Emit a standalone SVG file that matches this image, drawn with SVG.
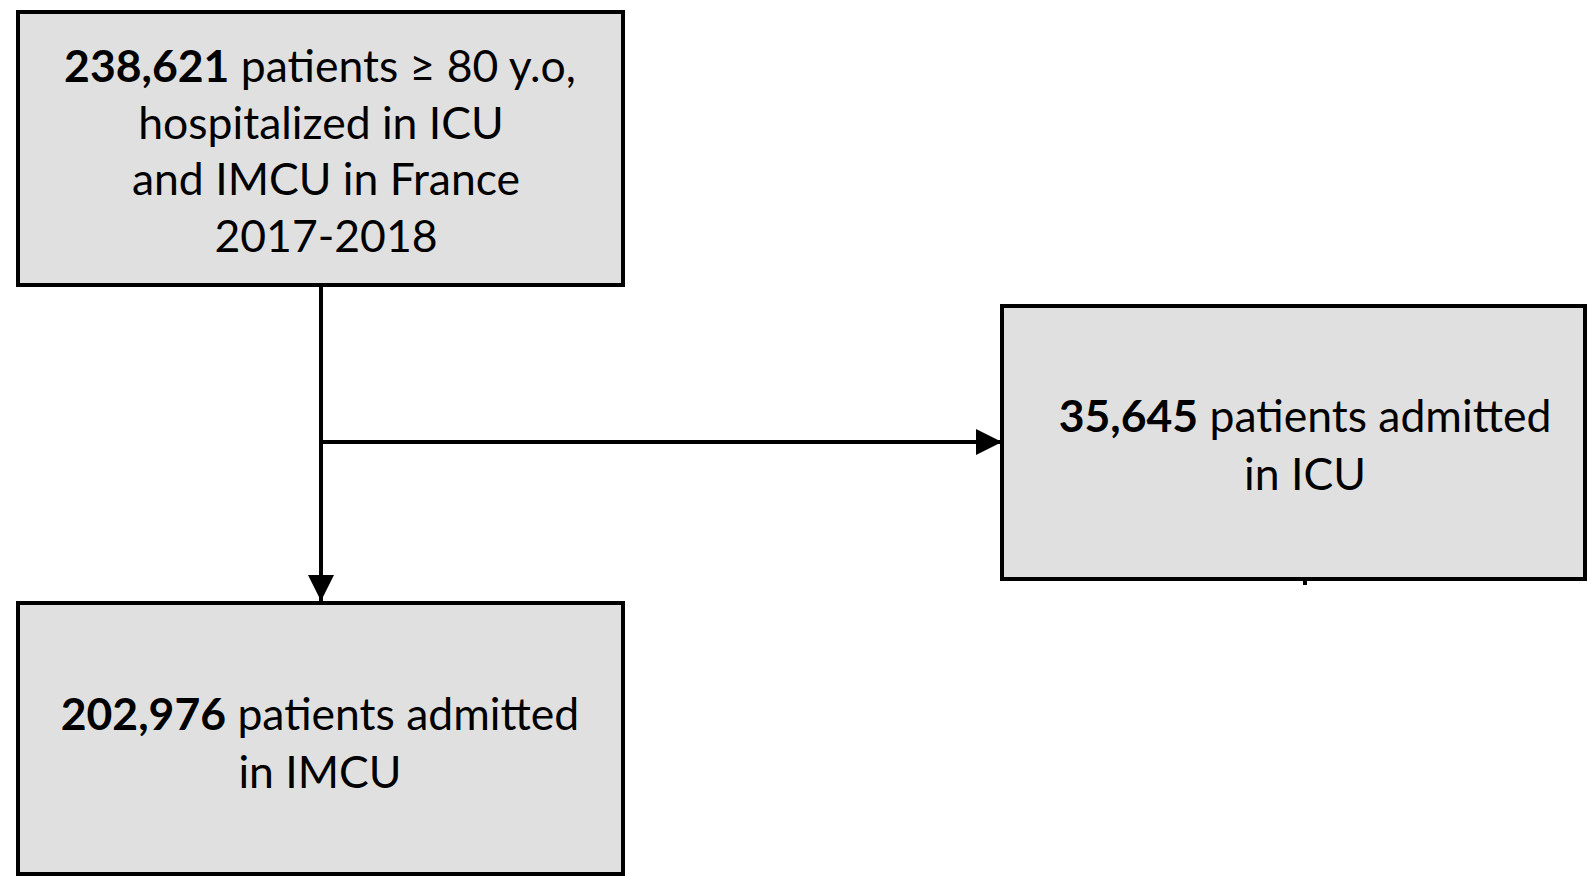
<svg xmlns="http://www.w3.org/2000/svg" width="1587" height="876" viewBox="0 0 1587 876">
<style>
.box{fill:#e0e0e0;stroke:#000;stroke-width:4}
.t{font-family:Lato,"Open Sans","Liberation Sans",sans-serif;font-size:44.5px;fill:#000;text-anchor:middle}
.b{font-weight:bold}
.c{stroke:#000;stroke-width:4;fill:none}
</style>
<defs>
<marker id="ah" viewBox="0 0 10 10" refX="10" refY="5" markerWidth="6.5" markerHeight="6.5" markerUnits="strokeWidth" orient="auto">
<path d="M0,0 L10,5 L0,10 Z" fill="#000"/>
</marker>
</defs>
<rect width="1587" height="876" fill="#fff"/>
<g id="connectors">
<line class="c" x1="321" y1="285" x2="321" y2="601" marker-end="url(#ah)"/>
<line class="c" x1="321" y1="442" x2="1002" y2="442" marker-end="url(#ah)"/>
<line class="c" x1="1305" y1="579" x2="1305" y2="585"/>
</g>
<g id="node-total">
<rect class="box" x="18" y="12" width="605" height="273"/>
<text class="t" x="320" y="82"><tspan class="b">238,621</tspan> patients ≥ 80 y.o,</text>
<text class="t" x="321" y="139">hospitalized in ICU</text>
<text class="t" x="326" y="195">and IMCU in France</text>
<text class="t" x="326" y="252">2017-2018</text>
</g>
<g id="node-icu">
<rect class="box" x="1002" y="306" width="583" height="273"/>
<text class="t" x="1305" y="432"><tspan class="b">35,645</tspan> patients admitted</text>
<text class="t" x="1305" y="490">in ICU</text>
</g>
<g id="node-imcu">
<rect class="box" x="18" y="603" width="605" height="271"/>
<text class="t" x="320" y="730"><tspan class="b">202,976</tspan> patients admitted</text>
<text class="t" x="320" y="788">in IMCU</text>
</g>
</svg>
